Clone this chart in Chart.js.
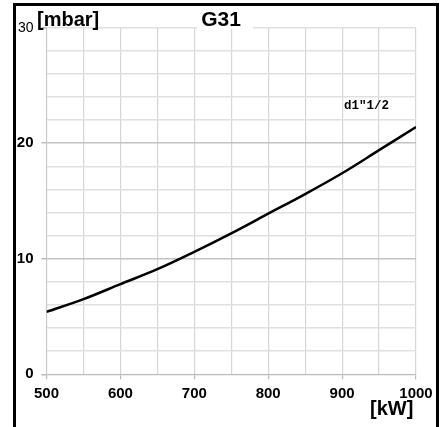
<!DOCTYPE html>
<html>
<head>
<meta charset="utf-8">
<script src="https://cdn.jsdelivr.net/npm/chart.js@4/dist/chart.umd.min.js"></script>
<style>
  body { margin: 0; background: #fff; }
  #wrap { position: relative; width: 446px; height: 427px; }
</style>
</head>
<body>
<div id="wrap"><canvas id="pressureChart"></canvas></div>
<script>
// Burner output [kW] and gas pressure [mbar] for G31, d1"1/2
const powerKW = [500, 550, 600, 650, 700, 750, 800, 850, 900, 950, 1000];
const pressureMbar = [5.4, 6.5, 7.8, 9.1, 10.6, 12.2, 13.9, 15.6, 17.4, 19.4, 21.4];
const xTickLabels = [500, 600, 700, 800, 900, 1000];
const yTickLabels = [0, 10, 20, 30];

const FONT = "'Liberation Sans', Arial, sans-serif";

// frame + axis titles drawn on top of the chart
const decorations = {
    id: "decorations",
    afterDraw(chart) {
        const ctx = chart.ctx;
        ctx.save();

        // white box behind the title hides the top grid line
        ctx.fillStyle = "#fff";
        ctx.fillRect(197, 6, 56, 23);

        ctx.fillStyle = "#000";
        ctx.textBaseline = "alphabetic";
        ctx.font = "bold 21px " + FONT;
        ctx.textAlign = "center";
        ctx.fillText("G31", 221, 26);
        ctx.textAlign = "left";
        ctx.font = "bold 20px " + FONT;
        ctx.fillText("[mbar]", 37, 26);
        ctx.fillText("[kW]", 370, 415);

        ctx.font = "bold 12.5px 'Liberation Mono', 'DejaVu Sans Mono', monospace";
        ctx.fillText("d1\"1/2", 344, 109);

        // black frame (bottom edge falls outside the picture)
        ctx.strokeStyle = "#000";
        ctx.lineWidth = 3;
        ctx.beginPath();
        ctx.moveTo(14.5, 440);
        ctx.lineTo(14.5, 4.5);
        ctx.lineTo(437.5, 4.5);
        ctx.lineTo(437.5, 440);
        ctx.stroke();
        ctx.restore();
    }
};

new Chart("pressureChart", {
    type: "line",
    data: {
        datasets: [{
            data: powerKW.map((p, i) => ({ x: p, y: pressureMbar[i] })),
            borderColor: "#000",
            borderWidth: 2.5,
            pointRadius: 0,
            fill: false,
            cubicInterpolationMode: "monotone"
        }]
    },
    options: {
        responsive: true,
        maintainAspectRatio: false,
        animation: false,
        layout: { padding: { top: 27.7, right: 30, left: 0, bottom: 0 } },
        plugins: { legend: { display: false }, tooltip: { enabled: false } },
        scales: {
            x: {
                type: "linear",
                min: 500,
                max: 1000,
                afterFit: s => { s.height = 52.7; },
                afterBuildTicks: s => {
                    s.ticks = powerKW.map(v => ({ value: v }));
                },
                ticks: {
                    autoSkip: false,
                    maxRotation: 0,
                    padding: 6,
                    color: "#000",
                    font: { family: FONT, size: 15, weight: "bold" },
                    callback: v => xTickLabels.includes(v) ? v : ""
                },
                grid: {
                    color: "#d6d6d6",
                    lineWidth: 1.2,
                    tickLength: 5,
                    tickColor: c => (c.tick && xTickLabels.includes(c.tick.value)) ? "#bbb" : "rgba(0,0,0,0)"
                },
                border: { color: "#bbb", width: 1 }
            },
            y: {
                min: 0,
                max: 30,
                afterFit: s => { s.width = 46.5; },
                ticks: {
                    stepSize: 2,
                    autoSkip: false,
                    padding: 8,
                    color: "#000",
                    font: c => (c.tick && c.tick.value === 30)
                        ? { family: FONT, size: 14, weight: "normal" }
                        : { family: FONT, size: 15, weight: "bold" },
                    callback: v => yTickLabels.includes(v) ? v : ""
                },
                grid: {
                    color: c => (c.tick && (c.tick.value === 10 || c.tick.value === 20)) ? "#c2c2c2" : "#e0e0e0",
                    lineWidth: 1.5,
                    tickLength: 5,
                    tickColor: c => (c.tick && yTickLabels.includes(c.tick.value)) ? "#bbb" : "rgba(0,0,0,0)"
                },
                border: { color: "#c8c8c8", width: 1 }
            }
        }
    },
    plugins: [decorations]
});
</script>
</body>
</html>
